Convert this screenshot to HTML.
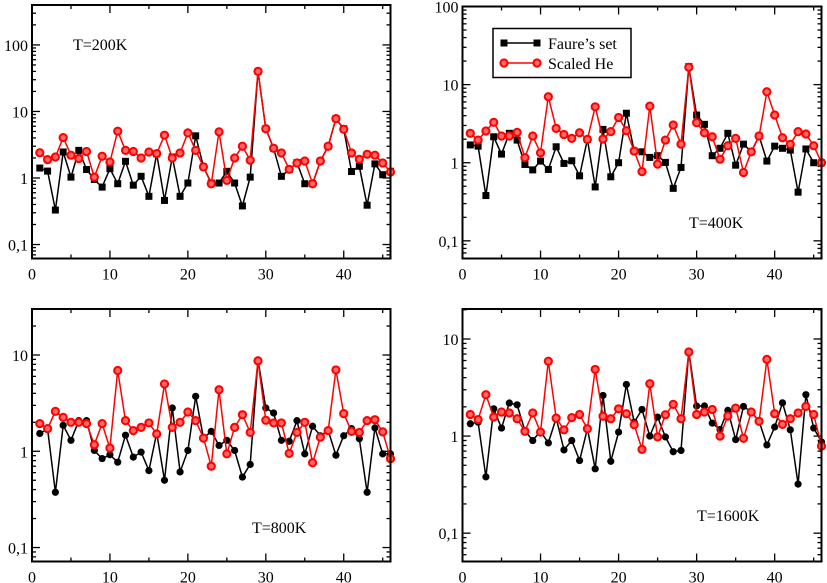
<!DOCTYPE html>
<html><head><meta charset="utf-8"><style>
html,body{margin:0;padding:0;background:#fff;}
svg{display:block;font-family:"Liberation Serif",serif;}
</style></head><body>
<svg id="chart" width="827" height="583" viewBox="0 0 827 583" xmlns="http://www.w3.org/2000/svg"></svg>
<script>
const xCats = Array.from({length:46},(_,i)=>i+1);
const faure200 = [1.41,1.27,0.33,2.46,1.03,2.6,1.34,0.95,0.73,1.38,0.82,1.78,0.78,1.06,0.53,2.3,0.46,2.07,0.53,0.84,4.3,1.47,0.84,0.84,1.26,0.84,0.38,1.03,40,5.5,2.8,1.06,1.34,1.7,0.82,0.82,1.8,3.0,7.8,5.5,1.25,1.5,0.39,1.63,1.12,1.26];
const he200 = [2.4,1.89,2.07,4.05,2.2,1.96,2.5,1.03,2.12,1.74,5.05,2.6,2.5,2.0,2.46,2.33,4.4,2.0,2.38,4.76,2.6,1.47,0.82,4.94,0.92,2.0,3.0,1.85,40,5.5,2.8,2.38,1.35,1.68,1.8,0.82,1.8,3.0,7.8,5.4,2.38,1.91,2.27,2.2,1.68,1.23];
const faure400 = [1.69,1.63,0.38,2.15,1.29,2.38,1.95,0.95,0.81,1.05,0.82,1.6,0.98,1.06,0.68,1.99,0.49,2.67,0.66,1.0,4.3,1.41,1.38,1.17,1.23,1.01,0.47,0.87,17,4.08,3.1,1.23,1.53,2.38,0.93,1.73,1.38,2.2,1.05,1.63,1.53,1.45,0.42,1.5,1.0,1.0];
const he400 = [2.38,1.95,2.55,3.29,2.2,2.2,2.45,1.16,2.2,1.34,7.0,2.75,2.3,2.05,2.42,1.99,5.2,2.01,2.5,3.8,2.57,1.41,0.77,5.3,0.96,1.95,3.04,1.73,16.7,3.26,2.42,2.15,1.11,1.65,2.05,0.75,1.38,2.2,8.1,4.08,2.09,1.72,2.5,2.33,1.65,1.0];
const faure800 = [1.53,1.7,0.375,1.86,1.3,2.08,2.08,1.02,0.84,0.92,0.77,1.47,0.87,0.98,0.63,1.55,0.5,2.82,0.61,1.02,3.72,1.37,1.61,1.15,1.3,1.02,0.54,0.73,8.9,2.82,2.5,1.3,1.27,2.08,0.94,1.82,1.45,1.64,0.91,1.45,1.72,1.35,0.375,1.75,0.94,0.94];
const he800 = [1.94,1.72,2.6,2.25,2.0,2.0,1.94,1.17,1.94,1.08,6.9,2.08,1.64,1.77,1.97,1.51,5.0,1.77,2.0,2.56,2.08,1.37,0.7,4.36,0.94,1.77,2.4,1.57,8.7,2.1,1.97,1.97,0.95,1.57,2.0,0.76,1.4,1.64,7.0,2.46,1.61,1.57,2.08,2.13,1.59,0.84];
const faure1600 = [1.34,1.39,0.38,1.91,1.21,2.19,2.1,1.14,0.9,1.12,0.85,1.53,0.72,0.9,0.56,1.19,0.46,2.62,0.55,1.1,3.4,1.39,1.88,1.0,1.57,0.98,0.69,0.71,7.5,2.04,2.04,1.36,1.17,1.84,0.92,2.02,1.77,1.42,0.81,1.24,2.2,1.16,0.32,2.67,1.21,0.87];
const he1600 = [1.67,1.48,2.67,1.57,1.77,1.73,1.51,1.12,1.73,1.1,5.9,1.53,1.16,1.55,1.67,1.19,4.86,1.6,1.51,1.91,1.7,1.31,0.73,3.46,0.98,1.66,2.12,1.51,7.35,1.67,1.77,1.88,1.0,1.61,1.94,0.95,1.77,1.42,6.17,1.7,1.32,1.51,1.73,2.02,1.67,0.79];
const xTickLabels = ["0","10","20","30","40"];
const yTickLabels = {"-1":"0,1","0":"1","1":"10","2":"100"};

const NS="http://www.w3.org/2000/svg";
const svg=document.getElementById('chart');
function mk(tag,attrs,parent){const e=document.createElementNS(NS,tag);for(const k in attrs)e.setAttribute(k,attrs[k]);(parent||svg).appendChild(e);return e;}

const panels=[
 {name:'panel-200k',L:32,R:390.5,T:5,B:258.5,yLo:-1.21,yHi:2.6,f:faure200,h:he200,mark:'square',label:'T=200K',lx:73,ly:50,decs:[-1,0,1,2]},
 {name:'panel-400k',L:462.5,R:821.5,T:6.5,B:258.5,yLo:-1.226,yHi:2.0,f:faure400,h:he400,mark:'square',label:'T=400K',lx:689,ly:228,decs:[-1,0,1,2],legend:true},
 {name:'panel-800k',L:32,R:390.5,T:309,B:561.5,yLo:-1.145,yHi:1.478,f:faure800,h:he800,mark:'circle',label:'T=800K',lx:252,ly:533,decs:[-1,0,1]},
 {name:'panel-1600k',L:462.5,R:821.5,T:309,B:561.5,yLo:-1.292,yHi:1.309,f:faure1600,h:he1600,mark:'circle',label:'T=1600K',lx:697,ly:521,decs:[-1,0,1]}
];

panels.forEach(p=>{
 const g=mk('g',{});
 
 
 const xs=v=>p.L+(v-0)/(46-0)*(p.R-p.L);
 const ys=v=>p.B-(Math.log10(v)-p.yLo)/(p.yHi-p.yLo)*(p.B-p.T);
 // ticks
 const tg=mk('g',{stroke:'#000','stroke-width':1.3},g);
 
 
 for(let v=0;v<=45;v+=5){
  const x=xs(v),len=v%10===0?8:4;
  mk('line',{x1:x,y1:p.B,x2:x,y2:p.B-len},tg);
  mk('line',{x1:x,y1:p.T,x2:x,y2:p.T+len},tg);
 }
 for(let d=Math.floor(p.yLo);d<=Math.ceil(p.yHi);d++){
  for(let m=1;m<=9;m++){
   const lv=d+Math.log10(m);
   if(lv<p.yLo||lv>p.yHi)continue;
   const y=p.B-(lv-p.yLo)/(p.yHi-p.yLo)*(p.B-p.T);
   const len=m===1?8:4;
   mk('line',{x1:p.L,y1:y,x2:p.L+len,y2:y},tg);
   mk('line',{x1:p.R,y1:y,x2:p.R-len,y2:y},tg);
  }
 }
 // labels
 xTickLabels.forEach((t,i)=>{
  const tx=mk('text',{x:xs(i*10),y:p.B+21,'text-anchor':'middle','font-size':16},g);
  tx.textContent=t;
  
  
 });
 p.decs.forEach(d=>{
  const tx=mk('text',{x:p.L-4,y:ys(Math.pow(10,d))+6,'text-anchor':'end','font-size':16},g);
  tx.textContent=yTickLabels[d];
  
  
 });
 // series
 function series(vals,color,mark,nm){
  const sg=mk('g',{},g);
  
  
  const pts=vals.map((v,i)=>xs(xCats[i]).toFixed(1)+','+ys(v).toFixed(1)).join(' ');
  mk('polyline',{points:pts,fill:'none',stroke:color,'stroke-width':1.5},sg);
  vals.forEach((v,i)=>{
   const x=xs(xCats[i]),y=ys(v);let m;
   if(mark==='square')m=mk('rect',{x:x-3.5,y:y-3.5,width:7,height:7,fill:'#000'},sg);
   else if(mark==='circle')m=mk('circle',{cx:x,cy:y,r:3.6,fill:'#000'},sg);
   else m=mk('circle',{cx:x,cy:y,r:3.6,fill:'#f66',stroke:'#f00','stroke-width':2},sg);
   
   
  });
 }
 series(p.f,'#000',p.mark,'series-faure');
 series(p.h,'#f00','hollow','series-scaled-he');
 // frame
 const fr=mk('rect',{x:p.L,y:p.T,width:p.R-p.L,height:p.B-p.T,fill:'none',stroke:'#000','stroke-width':2},g);
 
 
 const lab=mk('text',{x:p.lx,y:p.ly,'font-size':16},g);
 lab.textContent=p.label;
 
 
 if(p.legend){
  const lg=mk('g',{},g);
  
  
  mk('rect',{x:493,y:28.5,width:138,height:49,fill:'#fff',stroke:'#000','stroke-width':1.5},lg);
  mk('line',{x1:504,y1:43,x2:537,y2:43,stroke:'#000','stroke-width':1.5},lg);
  mk('rect',{x:500.5,y:39.5,width:7,height:7,fill:'#000'},lg);
  mk('rect',{x:533.5,y:39.5,width:7,height:7,fill:'#000'},lg);
  const t1=mk('text',{x:548,y:49,'font-size':16},lg);t1.textContent='Faure’s set';
  
  
  mk('line',{x1:504,y1:63,x2:537,y2:63,stroke:'#f00','stroke-width':1.5},lg);
  mk('circle',{cx:504,cy:63,r:3.6,fill:'#f66',stroke:'#f00','stroke-width':2},lg);
  mk('circle',{cx:537,cy:63,r:3.6,fill:'#f66',stroke:'#f00','stroke-width':2},lg);
  const t2=mk('text',{x:548,y:69,'font-size':16},lg);t2.textContent='Scaled He';
  
  
 }
});
</script>
</body></html>
